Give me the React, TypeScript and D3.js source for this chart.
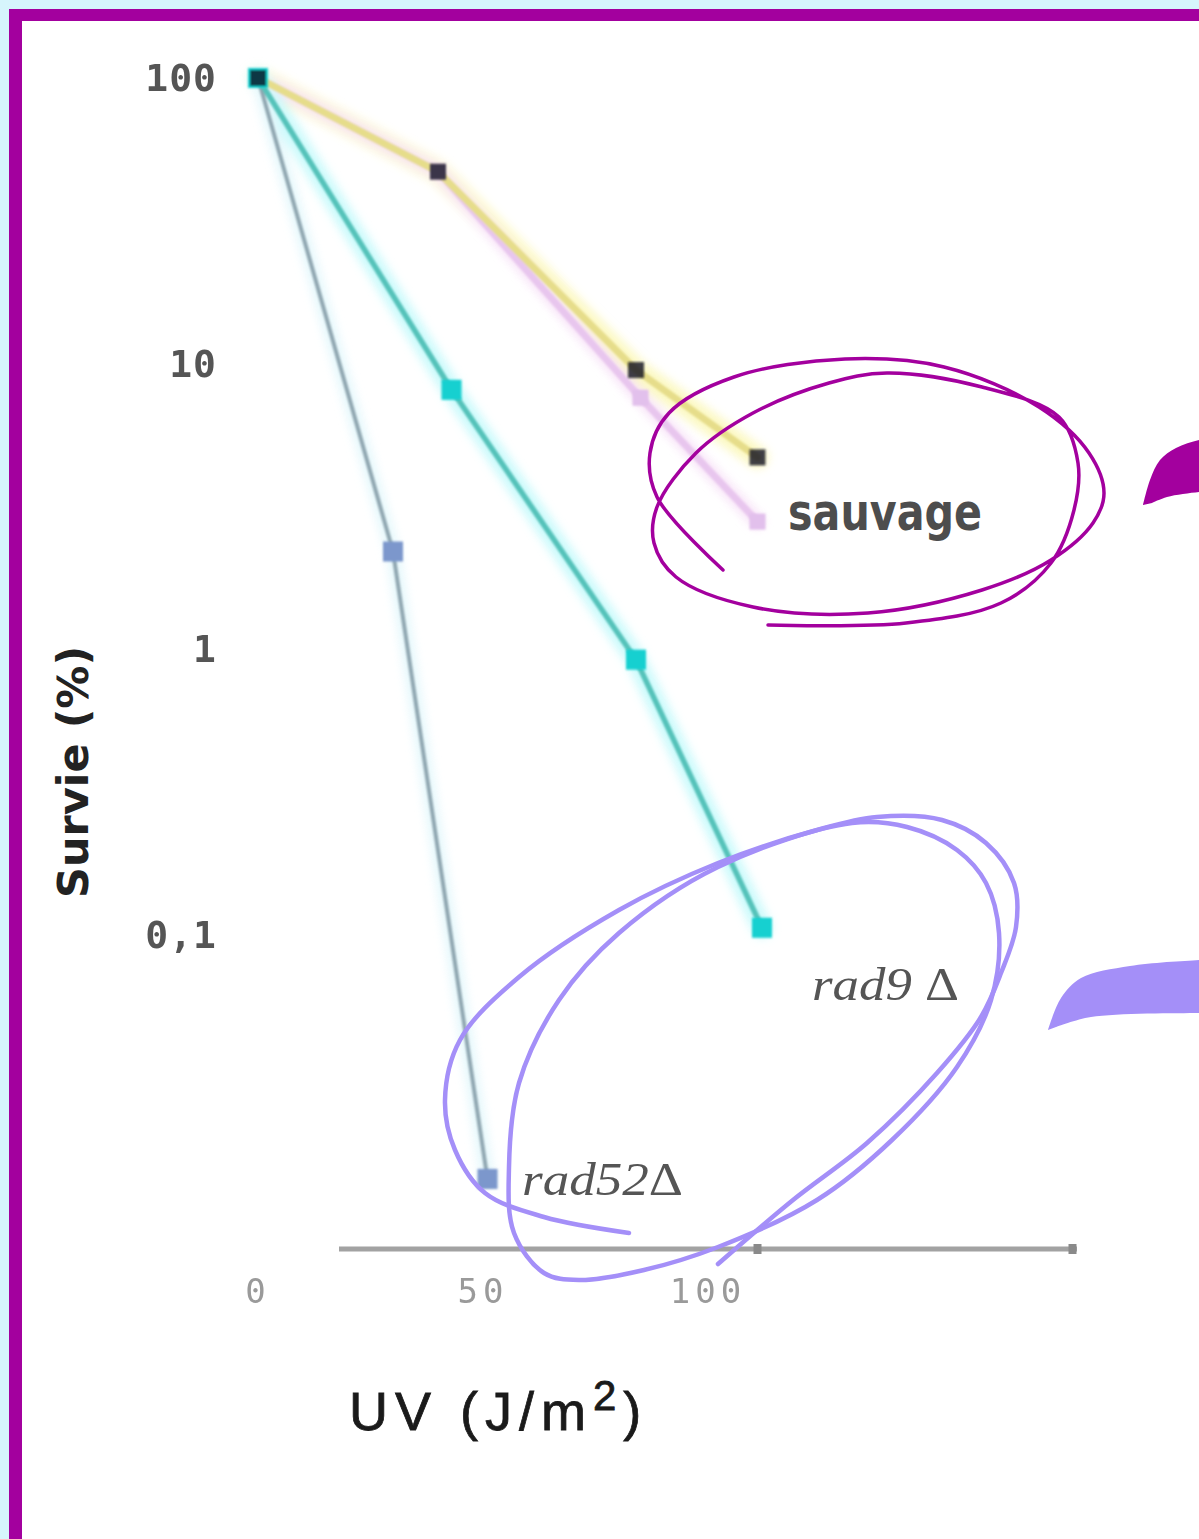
import React from "react";
import * as d3 from "d3";

// ---- data ----
const doseSauvage = [0, 40, 84, 111];
const survieSauvage = [100, 47, 9.5, 4.7];
const doseSauvage2 = [0, 40, 85, 111];
const survieSauvage2 = [100, 47, 7.6, 2.8];
const doseRad9 = [0, 43, 84, 112];
const survieRad9 = [100, 8.1, 0.92, 0.106];
const doseRad52 = [0, 30, 51];
const survieRad52 = [100, 2.2, 0.014];

const yTicks = [100, 10, 1, 0.1];
const yTickLabels = ["100", "10", "1", "0,1"];
const xTicks = [0, 50, 100];
const xTickLabels = ["0", "50", "100"];
const xAxisExtent = [18, 182];
const xAxisMarks = [111, 181];

// hand-drawn annotations (page pixels)
const purpleLoop: [number, number][] = [
  [723, 570], [657, 497], [650, 453], [669, 413], [734, 377], [845, 359], [944, 367],
  [1039, 407], [1089, 453], [1104, 493], [1093, 523], [1051, 560], [982, 590], [868, 613],
  [753, 607], [676, 577], [654, 543], [657, 507], [696, 453], [753, 413], [829, 383],
  [887, 373], [982, 387], [1059, 417], [1078, 463], [1074, 510], [1051, 563], [1001, 603],
  [906, 623], [768, 625],
];
const purpleBrush: [number, number][] = [
  [1143, 505], [1150, 480], [1160, 460], [1176, 448], [1199, 440], [1215, 438],
  [1215, 491], [1199, 492], [1167, 497], [1152, 503],
];
const lavLoopA: [number, number][] = [
  [629, 1233], [544, 1217], [485, 1193], [455, 1150], [445, 1100], [460, 1040], [519, 977],
  [619, 910], [718, 863], [817, 830], [877, 817], [942, 820], [986, 843], [1014, 883],
  [1016, 927], [1001, 973], [981, 1017], [937, 1073], [867, 1143], [793, 1200], [718, 1264],
];
const lavLoopB: [number, number][] = [
  [852, 823], [718, 867], [619, 933], [559, 1000], [519, 1083], [509, 1167], [514, 1233],
  [544, 1273], [579, 1280], [644, 1270], [718, 1247], [817, 1200], [892, 1140], [957, 1067],
  [991, 1000], [999, 933], [986, 883], [957, 850], [907, 827],
];
const lavBrush: [number, number][] = [
  [1048, 1030], [1061, 998], [1081, 978], [1130, 966], [1199, 960], [1215, 959],
  [1215, 1013], [1199, 1013], [1091, 1017], [1056, 1027],
];

const W = 1199;
const H = 1539;

export default function App() {
  const x = d3.scaleLinear().domain([0, 100]).range([258, 708]);
  const y = d3.scaleLog().domain([0.1, 100]).range([935, 78]);

  const mk = (ds: number[], vs: number[]) => ds.map((d, i) => [x(d), y(vs[i])] as [number, number]);
  const pSauv = mk(doseSauvage, survieSauvage);
  const pSauv2 = mk(doseSauvage2, survieSauvage2);
  const pRad9 = mk(doseRad9, survieRad9);
  const pRad52 = mk(doseRad52, survieRad52);

  const line = d3.line<[number, number]>();
  const smooth = d3.line<[number, number]>().curve(d3.curveCatmullRom.alpha(0.5));
  const smoothClosed = d3.line<[number, number]>().curve(d3.curveCatmullRomClosed.alpha(0.5));

  const squares = (pts: [number, number][], size: number, fill: string, op = 1) =>
    pts.map((p, i) => (
      <rect key={i} x={p[0] - size / 2} y={p[1] - size / 2} width={size} height={size} fill={fill} fillOpacity={op} />
    ));

  const monoFont = "'DejaVu Sans Mono', monospace";

  return (
    <svg width={W} height={H} style={{ position: "absolute", left: 0, top: 0 }} xmlns="http://www.w3.org/2000/svg">
      <defs>
        <filter id="glow" x="-20%" y="-20%" width="140%" height="140%">
          <feGaussianBlur stdDeviation="5" />
        </filter>
        <filter id="soft" x="-20%" y="-20%" width="140%" height="140%">
          <feGaussianBlur stdDeviation="1.2" />
        </filter>
        <filter id="textsoft" x="-10%" y="-10%" width="120%" height="120%">
          <feGaussianBlur stdDeviation="0.7" />
        </filter>
      </defs>
      {/* frame */}
      <rect x={0} y={0} width={W} height={H} fill="#d6f5fc" />
      <rect x={9} y={9} width={1300} height={1700} fill="#a3009e" />
      <rect x={22} y={21} width={1300} height={1700} fill="#ffffff" />

      {/* halos */}
      <g filter="url(#glow)" fill="none" strokeLinejoin="round" strokeLinecap="round" opacity={0.8}>
        <path d={line(pSauv) || ""} stroke="#fbf7b4" strokeWidth={22} />
        <path d={line(pSauv2) || ""} stroke="#f6dcf6" strokeWidth={14} />
        <path d={line(pRad9) || ""} stroke="#bff9fb" strokeWidth={20} />
        <path d={line(pRad52) || ""} stroke="#dff6fb" strokeWidth={14} />
      </g>

      {/* lines */}
      <g fill="none" strokeLinejoin="round" strokeLinecap="round" filter="url(#soft)">
        <path d={line(pRad52) || ""} stroke="#8fa6b0" strokeWidth={4} />
        <path d={line(pRad9) || ""} stroke="#55c2ba" strokeWidth={5.5} />
        <path d={line(pSauv2) || ""} stroke="#e8c6ee" strokeWidth={7} />
        <path d={line(pSauv) || ""} stroke="#e6dd8a" strokeWidth={7} />
      </g>

      {/* markers */}
      <g filter="url(#soft)">
        {squares(pSauv2, 16, "#e2c0ec")}
        {squares(pRad52, 20, "#7b97cc")}
        {squares(pRad9, 20, "#12d0d0")}
        {squares(pSauv, 16, "#111122", 0.8)}
      </g>

      {/* y tick labels */}
      <g filter="url(#textsoft)">
        {yTicks.map((t, i) => (
          <text key={t} x={217} y={y(t)} textAnchor="end" dominantBaseline="central" fontFamily={monoFont}
            fontWeight="bold" fontSize={38} letterSpacing={1} fill="#555">{yTickLabels[i]}</text>
        ))}
      </g>

      {/* x axis */}
      <line x1={x(xAxisExtent[0])} x2={x(xAxisExtent[1])} y1={1249} y2={1249} stroke="#a2a2a2" strokeWidth={5} />
      {xAxisMarks.map((m) => (
        <rect key={m} x={x(m) - 4} y={1244} width={8} height={10} fill="#8a8a8a" />
      ))}
      <g filter="url(#textsoft)">
        {xTicks.map((t, i) => (
          <text key={t} x={x(t)} y={1291} textAnchor="middle" dominantBaseline="central" fontFamily={monoFont}
            fontSize={34} letterSpacing={5} fill="#9a9a9a">{xTickLabels[i]}</text>
        ))}
      </g>

      {/* axis titles */}
      <text transform="translate(88,772) rotate(-90)" textAnchor="middle" fontFamily="'DejaVu Sans', sans-serif"
        fontWeight="bold" fontSize={43} fill="#222">Survie (%)</text>
      <text x={349} y={1430} fontFamily="'Liberation Sans', Arial, sans-serif" fontSize={54} letterSpacing={7}
        fill="#1a1a1a" stroke="#1a1a1a" strokeWidth={0.8}>
        UV (J/m<tspan dy={-20} fontSize={42}>2</tspan><tspan dy={20}>)</tspan>
      </text>

      {/* series labels */}
      <text x={788} y={530} fontFamily="'DejaVu Sans', sans-serif" fontWeight="bold" fontSize={52} textLength={194}
        lengthAdjust="spacingAndGlyphs" fill="#4d4d4d">sauvage</text>
      <text x={812} y={1000} fontFamily="'Liberation Serif', serif" fontStyle="italic" fontSize={46}
        textLength={147} lengthAdjust="spacingAndGlyphs" fill="#555">rad9 <tspan fontStyle="normal">Δ</tspan></text>
      <text x={522} y={1195} fontFamily="'Liberation Serif', serif" fontStyle="italic" fontSize={46}
        textLength={161} lengthAdjust="spacingAndGlyphs" fill="#555">rad52<tspan fontStyle="normal">Δ</tspan></text>

      {/* hand-drawn annotations */}
      <path d={smooth(purpleLoop) || ""} fill="none" stroke="#a3009e" strokeWidth={3.5} strokeLinecap="round" />
      <path d={smooth(purpleBrush) + "Z"} fill="#a3009e" />
      <path d={smooth(lavLoopA) || ""} fill="none" stroke="#a48ff8" strokeWidth={4.5} strokeLinecap="round" />
      <path d={smoothClosed(lavLoopB) || ""} fill="none" stroke="#a48ff8" strokeWidth={4.5} />
      <path d={smooth(lavBrush) + "Z"} fill="#a48ff8" />
    </svg>
  );
}
